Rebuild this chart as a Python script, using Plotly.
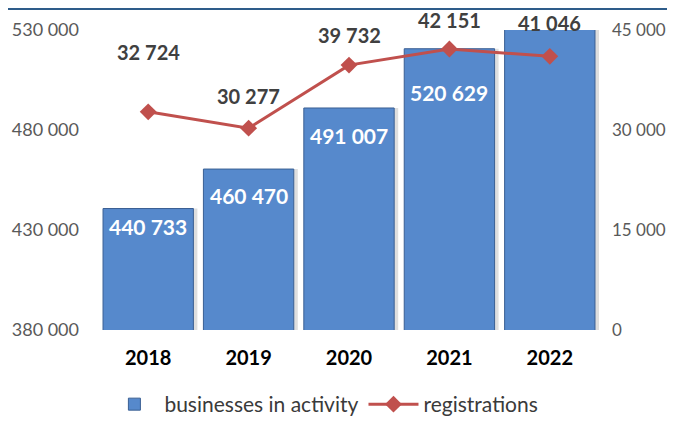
import plotly.graph_objects as go

years = ["2018", "2019", "2020", "2021", "2022"]
businesses = [440733, 460470, 491007, 520629, 545000]
business_labels = ["440 733", "460 470", "491 007", "520 629", ""]
registrations = [32724, 30277, 39732, 42151, 41046]
registration_labels = ["32 724", "30 277", "39 732", "42 151", "41 046"]
left_ticks = [380000, 430000, 480000, 530000]
left_tick_text = ["380 000", "430 000", "480 000", "530 000"]
right_ticks = [0, 15000, 30000, 45000]
right_tick_text = ["0", "15 000", "30 000", "45 000"]

FONT = "Lato"
BAR = "#5689CC"
LINE = "#C0504D"

fig = go.Figure()
# soft shadow to the right of each bar
fig.add_trace(go.Bar(
    x=years, y=businesses, width=0.9, offset=-0.45 + 0.04,
    marker=dict(color="rgba(0,0,0,0.13)", line=dict(width=0)),
    showlegend=False, hoverinfo="skip",
))
fig.add_trace(go.Bar(
    x=years, y=businesses, name="businesses in activity", width=0.9, offset=-0.45,
    marker=dict(color=BAR, line=dict(color="#3A5F93", width=1)),
    yaxis="y", hoverinfo="skip",
))
fig.add_trace(go.Scatter(
    x=years, y=registrations, name="registrations", mode="lines+markers",
    line=dict(color=LINE, width=3),
    marker=dict(symbol="diamond", size=13, color=LINE),
    yaxis="y2", cliponaxis=False,
))

bar_shift = [-18, -26, -28, -44, 0]
for i, (v, t, s) in enumerate(zip(businesses, business_labels, bar_shift)):
    if t:
        fig.add_annotation(x=i, y=v, xref="x", yref="y", text=f"<b>{t}</b>", showarrow=False,
                           yshift=s, font=dict(family=FONT, size=21, color="white"))
line_shift = [60, 32, 30, 29, 33]
for i, (v, t, s) in enumerate(zip(registrations, registration_labels, line_shift)):
    fig.add_annotation(x=i, y=v, xref="x", yref="y2", text=f"<b>{t}</b>", showarrow=False,
                       yshift=s, font=dict(family=FONT, size=20, color="#404040"))

fig.add_shape(type="line", xref="paper", yref="paper", x0=-0.3, x1=1.3,
              y0=1.07, y1=1.07, line=dict(color="#2E5C8A", width=2))

fig.update_layout(
    width=667, height=410,
    margin=dict(l=90, r=75, t=22, b=88, autoexpand=False),
    paper_bgcolor="white", plot_bgcolor="white",
    barmode="overlay",
    font=dict(family=FONT, color="#595959", size=16),
    showlegend=True,
    legend=dict(orientation="h", x=0.45, xanchor="center", y=-0.18, yanchor="top",
                font=dict(family=FONT, size=21, color="#3A3A3A"), itemwidth=50),
    xaxis=dict(type="category", range=[-0.5, 4.5], showline=False, ticks="", showgrid=False,
               tickfont=dict(family=FONT, size=20, color="black"), ticklabelstandoff=14,
               tickvals=years, ticktext=[f"<b>{y}</b>" for y in years]),
    yaxis=dict(range=[380000, 530000], tickvals=left_ticks, ticktext=left_tick_text,
               showgrid=False, zeroline=False, showline=False, ticks="",
               tickfont=dict(family=FONT, size=18, color="#595959"), ticklabelstandoff=18),
    yaxis2=dict(range=[0, 45000], tickvals=right_ticks, ticktext=right_tick_text,
                overlaying="y", side="right", showgrid=False, zeroline=False,
                showline=False, ticks="",
                tickfont=dict(family=FONT, size=17, color="#595959"), ticklabelstandoff=11),
)

fig.write_html("out.html")
